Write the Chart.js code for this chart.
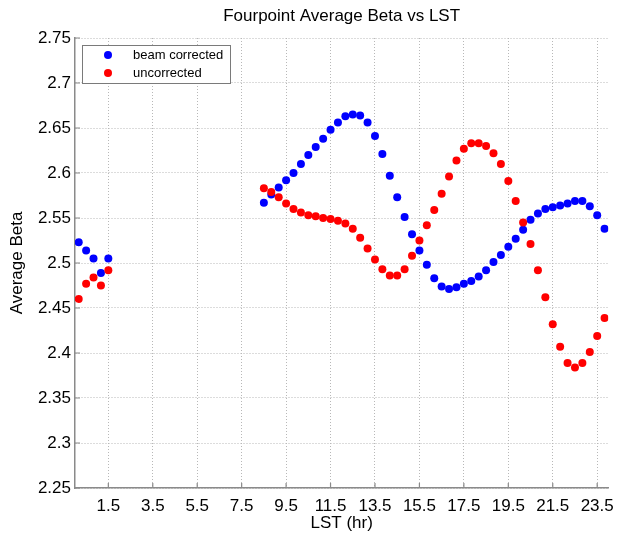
<!DOCTYPE html>
<html><head><meta charset="utf-8">
<script src="https://cdn.jsdelivr.net/npm/chart.js@4.4.1/dist/chart.umd.min.js"></script>
<style>html,body{margin:0;padding:0;background:#fff;}canvas{display:block;}</style>
</head><body>
<canvas id="c" width="622" height="538"></canvas>
<script>
// ---- data ----
const lstHours = [0.167, 0.5, 0.833, 1.167, 1.5,
  8.5, 8.833, 9.167, 9.5, 9.833, 10.167, 10.5, 10.833, 11.167, 11.5,
  11.833, 12.167, 12.5, 12.833, 13.167, 13.5, 13.833, 14.167, 14.5, 14.833,
  15.167, 15.5, 15.833, 16.167, 16.5, 16.833, 17.167, 17.5, 17.833, 18.167,
  18.5, 18.833, 19.167, 19.5, 19.833, 20.167, 20.5, 20.833, 21.167, 21.5,
  21.833, 22.167, 22.5, 22.833, 23.167, 23.5, 23.833];
const beamCorrected = [2.523, 2.514, 2.505, 2.489, 2.505,
  2.567, 2.576, 2.584, 2.592, 2.600, 2.610, 2.620, 2.629, 2.638, 2.648,
  2.656, 2.663, 2.665, 2.664, 2.656, 2.641, 2.621, 2.597, 2.573, 2.551,
  2.532, 2.514, 2.498, 2.483, 2.474, 2.471, 2.473, 2.477, 2.480, 2.485,
  2.492, 2.501, 2.509, 2.518, 2.527, 2.537, 2.548, 2.555, 2.560, 2.562,
  2.564, 2.566, 2.569, 2.569, 2.563, 2.553, 2.538];
const uncorrected = [2.460, 2.477, 2.484, 2.475, 2.492,
  2.583, 2.579, 2.573, 2.566, 2.560, 2.556, 2.553, 2.552, 2.550, 2.549,
  2.547, 2.544, 2.538, 2.528, 2.516, 2.504, 2.493, 2.486, 2.486, 2.493,
  2.508, 2.525, 2.542, 2.559, 2.577, 2.596, 2.614, 2.627, 2.633, 2.633,
  2.630, 2.622, 2.610, 2.591, 2.569, 2.545, 2.521, 2.492, 2.462, 2.432,
  2.407, 2.389, 2.384, 2.389, 2.401, 2.419, 2.439];
const xTickValues = [1.5, 3.5, 5.5, 7.5, 9.5, 11.5, 13.5, 15.5, 17.5, 19.5, 21.5, 23.5];
const yTickValues = [2.25, 2.3, 2.35, 2.4, 2.45, 2.5, 2.55, 2.6, 2.65, 2.7, 2.75];
const seriesNames = ['beam corrected', 'uncorrected'];
const seriesColors = ['#0000ff', '#ff0000'];
const chartTitle = 'Fourpoint Average Beta vs LST';
const xTitle = 'LST (hr)';
const yTitle = 'Average Beta';

const FONT = '"Liberation Sans", Arial, sans-serif';
const AXIS = '#8a8a8a';
const GRID = '#b8b8b8';

function toPoints(ys) { return lstHours.map((x, i) => ({x: x, y: ys[i]})); }

const extras = {
  id: 'extras',
  afterDraw(chart) {
    const ctx = chart.ctx, a = chart.chartArea;
    const xs = chart.scales.x, ys = chart.scales.y;
    ctx.save();
    // inward tick marks
    ctx.strokeStyle = AXIS; ctx.lineWidth = 1.2;
    ctx.beginPath();
    xTickValues.forEach(v => { const px = xs.getPixelForValue(v); ctx.moveTo(px, a.bottom); ctx.lineTo(px, a.bottom - 5); });
    yTickValues.forEach(v => { const py = ys.getPixelForValue(v); ctx.moveTo(a.left, py); ctx.lineTo(a.left + 5, py); });
    ctx.stroke();
    // title
    ctx.fillStyle = '#000';
    ctx.font = '17px ' + FONT;
    ctx.textAlign = 'center'; ctx.textBaseline = 'middle';
    ctx.fillText(chartTitle, (a.left + a.right) / 2, 16);
    // legend
    const lx = a.left + 7, ly = a.top + 7, lw = 148, lh = 38;
    ctx.fillStyle = '#fff';
    ctx.fillRect(lx, ly, lw, lh);
    ctx.strokeStyle = '#7a7a7a'; ctx.lineWidth = 1;
    ctx.strokeRect(lx + 0.5, ly + 0.5, lw, lh);
    ctx.font = '13px ' + FONT;
    ctx.textAlign = 'left';
    seriesNames.forEach((name, i) => {
      const cy = ly + 10 + i * 18;
      ctx.fillStyle = seriesColors[i];
      ctx.beginPath(); ctx.arc(lx + 26, cy, 4, 0, Math.PI * 2); ctx.fill();
      ctx.fillStyle = '#000';
      ctx.fillText(name, lx + 51, cy);
    });
    ctx.restore();
  }
};

new Chart(document.getElementById('c'), {
  type: 'scatter',
  data: {
    datasets: [
      { label: seriesNames[0], data: toPoints(beamCorrected), backgroundColor: seriesColors[0], borderWidth: 0, pointRadius: 4, pointHoverRadius: 4, order: 1 },
      { label: seriesNames[1], data: toPoints(uncorrected), backgroundColor: seriesColors[1], borderWidth: 0, pointRadius: 4, pointHoverRadius: 4, order: 0 }
    ]
  },
  options: {
    responsive: false,
    animation: false,
    events: [],
    layout: { padding: { top: 38, right: 13, left: 0, bottom: 0 } },
    plugins: { legend: { display: false }, title: { display: false }, tooltip: { enabled: false } },
    scales: {
      x: {
        type: 'linear', min: 0, max: 24,
        afterBuildTicks: s => { s.ticks = xTickValues.map(v => ({value: v})); },
        afterFit: s => { s.height = 50; },
        ticks: { padding: 8, font: { size: 17, family: FONT }, color: '#000', maxRotation: 0, autoSkip: false, callback: v => String(v) },
        grid: { color: GRID, lineWidth: 1, drawTicks: false },
        border: { display: true, color: AXIS, width: 1.5, dash: [1, 2] },
        title: { display: true, text: xTitle, font: { size: 17, family: FONT }, color: '#000', padding: { top: 0, bottom: 4 } }
      },
      y: {
        type: 'linear', min: 2.25, max: 2.75,
        afterBuildTicks: s => { s.ticks = yTickValues.map(v => ({value: v})); },
        afterFit: s => { s.width = 75; },
        ticks: { padding: 4, font: { size: 17, family: FONT }, color: '#000', autoSkip: false, callback: v => String(Math.round(v * 100) / 100) },
        grid: { color: GRID, lineWidth: 1, drawTicks: false },
        border: { display: true, color: AXIS, width: 1.5, dash: [1, 2] },
        title: { display: true, text: yTitle, font: { size: 17, family: FONT }, color: '#000', padding: { top: 7, bottom: 0 } }
      }
    }
  },
  plugins: [extras]
});
</script>
</body></html>
